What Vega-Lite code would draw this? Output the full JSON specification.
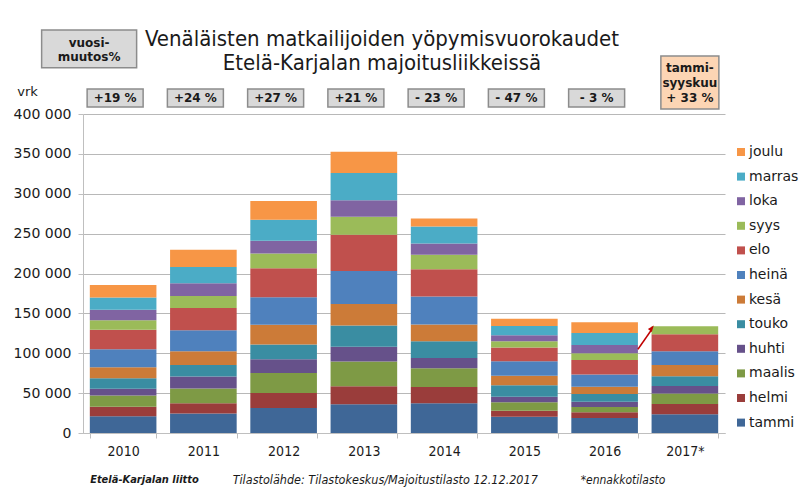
{
  "$schema": "https://vega.github.io/schema/vega-lite/v6.json",
  "width": 642,
  "height": 319,
  "autosize": {"type": "none"},
  "padding": {"left": 83, "top": 114, "right": 79, "bottom": 56},
  "background": "white",
  "config": {
    "view": {"stroke": null},
    "locale": {"number": {"decimal": ",", "thousands": " ", "grouping": [3], "currency": ["", " €"]}},
    "axisY": {"labelOverlap": false}
  },
  "title": {
    "text": ["Venäläisten matkailijoiden yöpymisvuorokaudet", "Etelä-Karjalan majoitusliikkeissä"],
    "font": "DejaVu Sans Condensed",
    "fontSize": 22,
    "fontWeight": "normal",
    "color": "#1a1a1a",
    "anchor": "middle",
    "frame": "group",
    "dx": -22,
    "baseline": "bottom",
    "offset": -68,
    "lineHeight": 24
  },
  "datasets": {
    "nights": [
      {"year": "2010", "month": "tammi", "m": 1, "value": 21000},
      {"year": "2010", "month": "helmi", "m": 2, "value": 12000},
      {"year": "2010", "month": "maalis", "m": 3, "value": 14000},
      {"year": "2010", "month": "huhti", "m": 4, "value": 8500},
      {"year": "2010", "month": "touko", "m": 5, "value": 13000},
      {"year": "2010", "month": "kesä", "m": 6, "value": 14000},
      {"year": "2010", "month": "heinä", "m": 7, "value": 22500},
      {"year": "2010", "month": "elo", "m": 8, "value": 24500},
      {"year": "2010", "month": "syys", "m": 9, "value": 12000},
      {"year": "2010", "month": "loka", "m": 10, "value": 13000},
      {"year": "2010", "month": "marras", "m": 11, "value": 15500},
      {"year": "2010", "month": "joulu", "m": 12, "value": 15500},
      {"year": "2011", "month": "tammi", "m": 1, "value": 24300},
      {"year": "2011", "month": "helmi", "m": 2, "value": 13000},
      {"year": "2011", "month": "maalis", "m": 3, "value": 18400},
      {"year": "2011", "month": "huhti", "m": 4, "value": 15000},
      {"year": "2011", "month": "touko", "m": 5, "value": 14600},
      {"year": "2011", "month": "kesä", "m": 6, "value": 17200},
      {"year": "2011", "month": "heinä", "m": 7, "value": 26300},
      {"year": "2011", "month": "elo", "m": 8, "value": 28000},
      {"year": "2011", "month": "syys", "m": 9, "value": 15100},
      {"year": "2011", "month": "loka", "m": 10, "value": 15900},
      {"year": "2011", "month": "marras", "m": 11, "value": 20500},
      {"year": "2011", "month": "joulu", "m": 12, "value": 21400},
      {"year": "2012", "month": "tammi", "m": 1, "value": 31400},
      {"year": "2012", "month": "helmi", "m": 2, "value": 18800},
      {"year": "2012", "month": "maalis", "m": 3, "value": 25100},
      {"year": "2012", "month": "huhti", "m": 4, "value": 17200},
      {"year": "2012", "month": "touko", "m": 5, "value": 18400},
      {"year": "2012", "month": "kesä", "m": 6, "value": 24700},
      {"year": "2012", "month": "heinä", "m": 7, "value": 34700},
      {"year": "2012", "month": "elo", "m": 8, "value": 36400},
      {"year": "2012", "month": "syys", "m": 9, "value": 18400},
      {"year": "2012", "month": "loka", "m": 10, "value": 15900},
      {"year": "2012", "month": "marras", "m": 11, "value": 26400},
      {"year": "2012", "month": "joulu", "m": 12, "value": 23400},
      {"year": "2013", "month": "tammi", "m": 1, "value": 36000},
      {"year": "2013", "month": "helmi", "m": 2, "value": 22600},
      {"year": "2013", "month": "maalis", "m": 3, "value": 31000},
      {"year": "2013", "month": "huhti", "m": 4, "value": 18400},
      {"year": "2013", "month": "touko", "m": 5, "value": 26800},
      {"year": "2013", "month": "kesä", "m": 6, "value": 26800},
      {"year": "2013", "month": "heinä", "m": 7, "value": 41400},
      {"year": "2013", "month": "elo", "m": 8, "value": 45600},
      {"year": "2013", "month": "syys", "m": 9, "value": 22600},
      {"year": "2013", "month": "loka", "m": 10, "value": 20500},
      {"year": "2013", "month": "marras", "m": 11, "value": 34300},
      {"year": "2013", "month": "joulu", "m": 12, "value": 26800},
      {"year": "2014", "month": "tammi", "m": 1, "value": 37200},
      {"year": "2014", "month": "helmi", "m": 2, "value": 20500},
      {"year": "2014", "month": "maalis", "m": 3, "value": 23400},
      {"year": "2014", "month": "huhti", "m": 4, "value": 13000},
      {"year": "2014", "month": "touko", "m": 5, "value": 20900},
      {"year": "2014", "month": "kesä", "m": 6, "value": 20900},
      {"year": "2014", "month": "heinä", "m": 7, "value": 35200},
      {"year": "2014", "month": "elo", "m": 8, "value": 34300},
      {"year": "2014", "month": "syys", "m": 9, "value": 18000},
      {"year": "2014", "month": "loka", "m": 10, "value": 14200},
      {"year": "2014", "month": "marras", "m": 11, "value": 21300},
      {"year": "2014", "month": "joulu", "m": 12, "value": 10000},
      {"year": "2015", "month": "tammi", "m": 1, "value": 20500},
      {"year": "2015", "month": "helmi", "m": 2, "value": 7500},
      {"year": "2015", "month": "maalis", "m": 3, "value": 10500},
      {"year": "2015", "month": "huhti", "m": 4, "value": 7100},
      {"year": "2015", "month": "touko", "m": 5, "value": 14200},
      {"year": "2015", "month": "kesä", "m": 6, "value": 12100},
      {"year": "2015", "month": "heinä", "m": 7, "value": 18000},
      {"year": "2015", "month": "elo", "m": 8, "value": 17200},
      {"year": "2015", "month": "syys", "m": 9, "value": 7900},
      {"year": "2015", "month": "loka", "m": 10, "value": 7500},
      {"year": "2015", "month": "marras", "m": 11, "value": 11700},
      {"year": "2015", "month": "joulu", "m": 12, "value": 9200},
      {"year": "2016", "month": "tammi", "m": 1, "value": 18800},
      {"year": "2016", "month": "helmi", "m": 2, "value": 7100},
      {"year": "2016", "month": "maalis", "m": 3, "value": 6700},
      {"year": "2016", "month": "huhti", "m": 4, "value": 6700},
      {"year": "2016", "month": "touko", "m": 5, "value": 9600},
      {"year": "2016", "month": "kesä", "m": 6, "value": 9200},
      {"year": "2016", "month": "heinä", "m": 7, "value": 15100},
      {"year": "2016", "month": "elo", "m": 8, "value": 18400},
      {"year": "2016", "month": "syys", "m": 9, "value": 8400},
      {"year": "2016", "month": "loka", "m": 10, "value": 10500},
      {"year": "2016", "month": "marras", "m": 11, "value": 15000},
      {"year": "2016", "month": "joulu", "m": 12, "value": 13400},
      {"year": "2017*", "month": "tammi", "m": 1, "value": 23400},
      {"year": "2017*", "month": "helmi", "m": 2, "value": 13000},
      {"year": "2017*", "month": "maalis", "m": 3, "value": 13000},
      {"year": "2017*", "month": "huhti", "m": 4, "value": 9600},
      {"year": "2017*", "month": "touko", "m": 5, "value": 12100},
      {"year": "2017*", "month": "kesä", "m": 6, "value": 14200},
      {"year": "2017*", "month": "heinä", "m": 7, "value": 17200},
      {"year": "2017*", "month": "elo", "m": 8, "value": 21300},
      {"year": "2017*", "month": "syys", "m": 9, "value": 10000}
    ],
    "pct": [
      {"year": "2010", "label": "+19 %"},
      {"year": "2011", "label": "+24 %"},
      {"year": "2012", "label": "+27 %"},
      {"year": "2013", "label": "+21 %"},
      {"year": "2014", "label": "- 23 %"},
      {"year": "2015", "label": "- 47 %"},
      {"year": "2016", "label": "- 3 %"}
    ]
  },
  "layer": [
    {
      "data": {"name": "nights"},
      "mark": {"type": "bar"},
      "encoding": {
        "x": {
          "field": "year",
          "type": "nominal",
          "scale": {"paddingInner": 0.17, "paddingOuter": 0.085},
          "axis": {
            "title": null,
            "labelAngle": 0,
            "labelFont": "DejaVu Sans Condensed",
            "labelFontSize": 14,
            "labelColor": "#1a1a1a",
            "labelPadding": 6,
            "tickBand": "extent",
            "tickSize": 5,
            "tickColor": "#bfbfbf",
            "domainColor": "#bfbfbf"
          }
        },
        "y": {
          "field": "value",
          "type": "quantitative",
          "stack": "zero",
          "scale": {"domain": [0, 400000], "nice": false},
          "axis": {
            "values": [0, 50000, 100000, 150000, 200000, 250000, 300000, 350000, 400000],
            "tickCount": 12,
            "format": ",d",
            "labelOverlap": false,
            "labelFont": "DejaVu Sans",
            "labelFontSize": 14,
            "labelColor": "#1a1a1a",
            "labelPadding": 7,
            "tickSize": 5,
            "tickColor": "#bfbfbf",
            "domainColor": "#bfbfbf",
            "grid": true,
            "gridColor": "#b8b8b8",
            "title": "vrk",
            "titleAngle": 0,
            "titleX": -56,
            "titleY": -23,
            "titleAlign": "center",
            "titleBaseline": "middle",
            "titleFont": "DejaVu Sans",
            "titleFontSize": 13,
            "titleFontWeight": "normal",
            "titleColor": "#1a1a1a"
          }
        },
        "color": {
          "field": "month",
          "type": "nominal",
          "sort": ["joulu", "marras", "loka", "syys", "elo", "heinä", "kesä", "touko", "huhti", "maalis", "helmi", "tammi"],
          "scale": {"range": ["#F79646", "#4BACC6", "#8064A2", "#9BBB59", "#C0504D", "#4F81BD", "#CC7B38", "#3A8DA2", "#66518A", "#7E9A45", "#9A3D3B", "#3F6797"]},
          "legend": {
            "title": null,
            "orient": "none",
            "legendX": 651,
            "legendY": 31,
            "symbolType": "square",
            "symbolSize": 64,
            "symbolStrokeWidth": 0,
            "labelFont": "DejaVu Sans",
            "labelFontSize": 14,
            "labelColor": "#1a1a1a",
            "labelOffset": 1,
            "rowPadding": 10.6
          }
        },
        "order": {"field": "m", "type": "quantitative", "sort": "ascending"}
      }
    },
    {
      "data": {"name": "pct"},
      "mark": {"type": "bar", "width": 56, "xOffset": -8, "fill": "#d9d9d9", "stroke": "#8c8c8c", "strokeWidth": 1.5},
      "encoding": {
        "x": {"field": "year", "type": "nominal"},
        "y": {"datum": 408800, "type": "quantitative"},
        "y2": {"datum": 431300}
      }
    },
    {
      "data": {"name": "pct"},
      "mark": {"type": "text", "xOffset": -8, "font": "DejaVu Sans", "fontSize": 12, "fontWeight": "bold", "color": "#1a1a1a", "baseline": "middle"},
      "encoding": {
        "x": {"field": "year", "type": "nominal"},
        "y": {"datum": 420000, "type": "quantitative"},
        "text": {"field": "label"}
      }
    },
    {
      "data": {"values": [{"year": "2017*", "label": "tammi-\nsyyskuu\n+ 33 %"}]},
      "mark": {"type": "bar", "width": 58, "xOffset": 5, "fill": "#FCD5B4", "stroke": "#8c8c8c", "strokeWidth": 1.5},
      "encoding": {
        "x": {"field": "year", "type": "nominal"},
        "y": {"datum": 406300, "type": "quantitative"},
        "y2": {"datum": 472700}
      }
    },
    {
      "data": {"values": [{"year": "2017*", "label": "tammi-\nsyyskuu\n+ 33 %"}]},
      "mark": {"type": "text", "xOffset": 5, "lineBreak": "\n", "lineHeight": 15, "font": "DejaVu Sans", "fontSize": 12, "fontWeight": "bold", "color": "#1a1a1a", "baseline": "middle"},
      "encoding": {
        "x": {"field": "year", "type": "nominal"},
        "y": {"datum": 457700, "type": "quantitative"},
        "text": {"field": "label"}
      }
    },
    {
      "data": {"values": [{"year": "2010", "label": "vuosi-\nmuutos%"}]},
      "mark": {"type": "bar", "width": 95, "xOffset": -34, "fill": "#d9d9d9", "stroke": "#8c8c8c", "strokeWidth": 1.5},
      "encoding": {
        "x": {"field": "year", "type": "nominal"},
        "y": {"datum": 458000, "type": "quantitative"},
        "y2": {"datum": 505300}
      }
    },
    {
      "data": {"values": [{"year": "2010", "label": "vuosi-\nmuutos%"}]},
      "mark": {"type": "text", "xOffset": -34, "lineBreak": "\n", "lineHeight": 14, "font": "DejaVu Sans", "fontSize": 12, "fontWeight": "bold", "color": "#1a1a1a", "baseline": "middle"},
      "encoding": {
        "x": {"field": "year", "type": "nominal"},
        "y": {"datum": 489400, "type": "quantitative"},
        "text": {"field": "label"}
      }
    },
    {
      "data": {"values": [{"from": "2016", "to": "2017*", "v1": 105000, "v2": 129500}]},
      "mark": {"type": "rule", "color": "#C00000", "strokeWidth": 1.5},
      "encoding": {
        "x": {"field": "from", "type": "nominal", "bandPosition": 1},
        "x2": {"field": "to", "bandPosition": 0},
        "y": {"field": "v1", "type": "quantitative"},
        "y2": {"field": "v2"}
      }
    },
    {
      "data": {"values": [{"to": "2017*", "v2": 131400}]},
      "mark": {"type": "point", "shape": "M0,-1L0.7,0.8L-0.7,0.8Z", "filled": true, "opacity": 1, "color": "#C00000", "size": 50, "angle": 38},
      "encoding": {
        "x": {"field": "to", "type": "nominal", "bandPosition": 0},
        "y": {"field": "v2", "type": "quantitative"}
      }
    },
    {
      "data": {"values": [{"year": "2010", "label": "Etelä-Karjalan liitto"}]},
      "mark": {"type": "text", "align": "left", "xOffset": -33, "font": "DejaVu Sans Condensed", "fontSize": 11, "fontStyle": "italic", "fontWeight": "bold", "color": "#1a1a1a", "baseline": "middle"},
      "encoding": {
        "x": {"field": "year", "type": "nominal"},
        "y": {"datum": -58900, "type": "quantitative"},
        "text": {"field": "label"}
      }
    },
    {
      "data": {"values": [{"year": "2012", "label": "Tilastolähde: Tilastokeskus/Majoitustilasto 12.12.2017"}]},
      "mark": {"type": "text", "align": "left", "xOffset": -51, "font": "DejaVu Sans Condensed", "fontSize": 12.5, "fontStyle": "italic", "color": "#1a1a1a", "baseline": "middle"},
      "encoding": {
        "x": {"field": "year", "type": "nominal"},
        "y": {"datum": -58900, "type": "quantitative"},
        "text": {"field": "label"}
      }
    },
    {
      "data": {"values": [{"year": "2016", "label": "*ennakkotilasto"}]},
      "mark": {"type": "text", "align": "left", "xOffset": -24, "font": "DejaVu Sans Condensed", "fontSize": 12, "fontStyle": "italic", "color": "#1a1a1a", "baseline": "middle"},
      "encoding": {
        "x": {"field": "year", "type": "nominal"},
        "y": {"datum": -58900, "type": "quantitative"},
        "text": {"field": "label"}
      }
    }
  ]
}
